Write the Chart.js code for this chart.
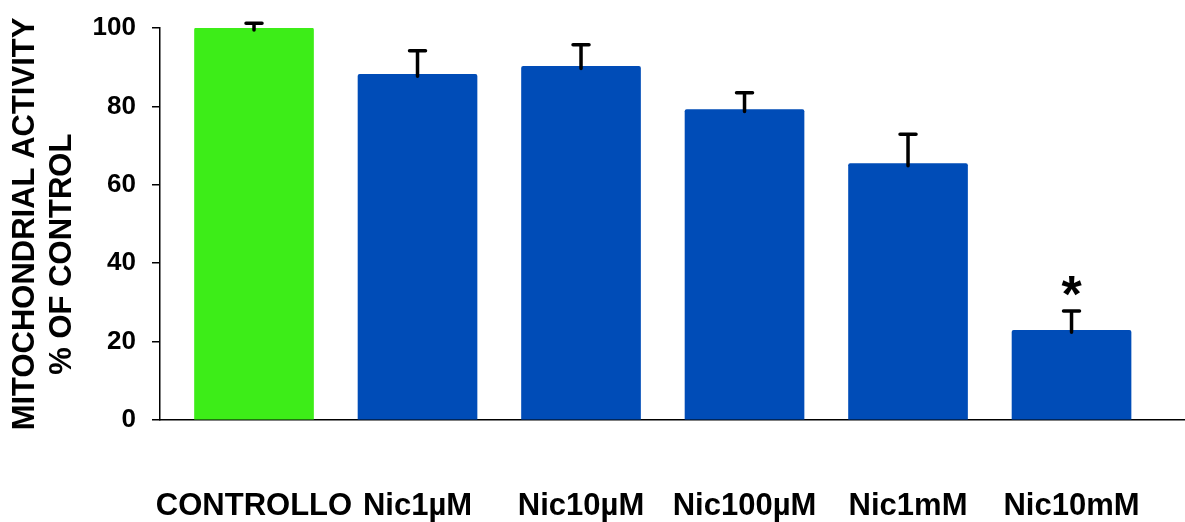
<!DOCTYPE html>
<html>
<head>
<meta charset="utf-8">
<script src="https://cdn.jsdelivr.net/npm/chart.js@4/dist/chart.umd.min.js"></script>
<style>
  html, body { margin: 0; padding: 0; background: #ffffff; }
  #wrap { width: 1185px; height: 522px; position: relative; }
</style>
</head>
<body>
<div id="wrap"><canvas id="c" width="1185" height="522"></canvas></div>
<script>
const categories = ['CONTROLLO', 'Nic1µM', 'Nic10µM', 'Nic100µM', 'Nic1mM', 'Nic10mM'];
const means = [100, 88.2, 90.2, 79.2, 65.4, 22.9];
const errors = [1.2, 6.0, 5.5, 4.3, 7.5, 4.9];
const marks = ['', '', '', '', '', '*'];
const yTicks = [0, 20, 40, 60, 80, 100];
const barColors = ['#3DED18', '#004CB7', '#004CB7', '#004CB7', '#004CB7', '#004CB7'];
const yTitle = ['MITOCHONDRIAL ACTIVITY', '% OF CONTROL       '];

const FONT = "'Liberation Sans', Arial, Helvetica, sans-serif";

const errorBarPlugin = {
  id: 'errorBars',
  afterDatasetsDraw(chart) {
    const ctx = chart.ctx;
    const yScale = chart.scales.y;
    const meta = chart.getDatasetMeta(0);
    ctx.save();
    ctx.strokeStyle = '#000000';
    ctx.lineWidth = 3.5;
    ctx.lineCap = 'round';
    meta.data.forEach((bar, i) => {
      const x = bar.x;
      const top = yScale.getPixelForValue(means[i] + errors[i]);
      ctx.beginPath();
      ctx.moveTo(x, bar.y + 2);
      ctx.lineTo(x, top);
      ctx.moveTo(x - 8, top);
      ctx.lineTo(x + 8, top);
      ctx.stroke();
      if (marks[i]) {
        ctx.fillStyle = '#000000';
        ctx.font = 'bold 52px ' + FONT;
        ctx.textAlign = 'center';
        ctx.textBaseline = 'alphabetic';
        ctx.fillText(marks[i], x, top + 1);
      }
    });
    ctx.restore();
  }
};

new Chart(document.getElementById('c'), {
  type: 'bar',
  data: {
    datasets: [{
      data: means.map((v, i) => ({ x: i, y: v })),
      backgroundColor: barColors,
      borderWidth: 0,
      borderRadius: 2,
      borderSkipped: 'bottom',
      barThickness: 119
    }]
  },
  options: {
    responsive: false,
    animation: false,
    devicePixelRatio: 1,
    layout: { padding: { left: 7, top: 28, right: 0, bottom: 0 } },
    plugins: {
      legend: { display: false },
      tooltip: { enabled: false }
    },
    scales: {
      x: {
        type: 'linear',
        offset: false,
        bounds: 'data',
        min: -0.575,
        max: 5.694,
        afterBuildTicks: (s) => { s.ticks = categories.map((c, i) => ({ value: i })); },
        afterFit: (s) => { s.height = 102; s.paddingLeft = 0; s.paddingRight = 0; },
        grid: { display: false, drawTicks: false },
        border: { display: true, color: '#000000', width: 1.5 },
        ticks: {
          autoSkip: false,
          maxRotation: 0,
          padding: 68,
          color: '#000000',
          font: { family: FONT, size: 31, weight: 'bold' },
          callback: (v) => categories[v]
        }
      },
      y: {
        min: 0,
        max: 100,
        afterBuildTicks: (s) => { s.ticks = yTicks.map(v => ({ value: v })); },
        afterFit: (s) => { s.width = 153; s.paddingTop = 0; s.paddingBottom = 0; },
        grid: { drawOnChartArea: false, drawTicks: true, tickLength: 8, color: '#000000', lineWidth: 1.5 },
        border: { display: true, color: '#000000', width: 1.5 },
        ticks: {
          padding: 16,
          color: '#000000',
          font: { family: FONT, size: 26, weight: 'bold' }
        },
        title: {
          display: true,
          text: yTitle,
          color: '#000000',
          font: { family: FONT, size: 31, weight: 'bold', lineHeight: 1.2 },
          padding: { top: 0, bottom: 0 }
        }
      }
    }
  },
  plugins: [errorBarPlugin]
});
</script>
</body>
</html>
